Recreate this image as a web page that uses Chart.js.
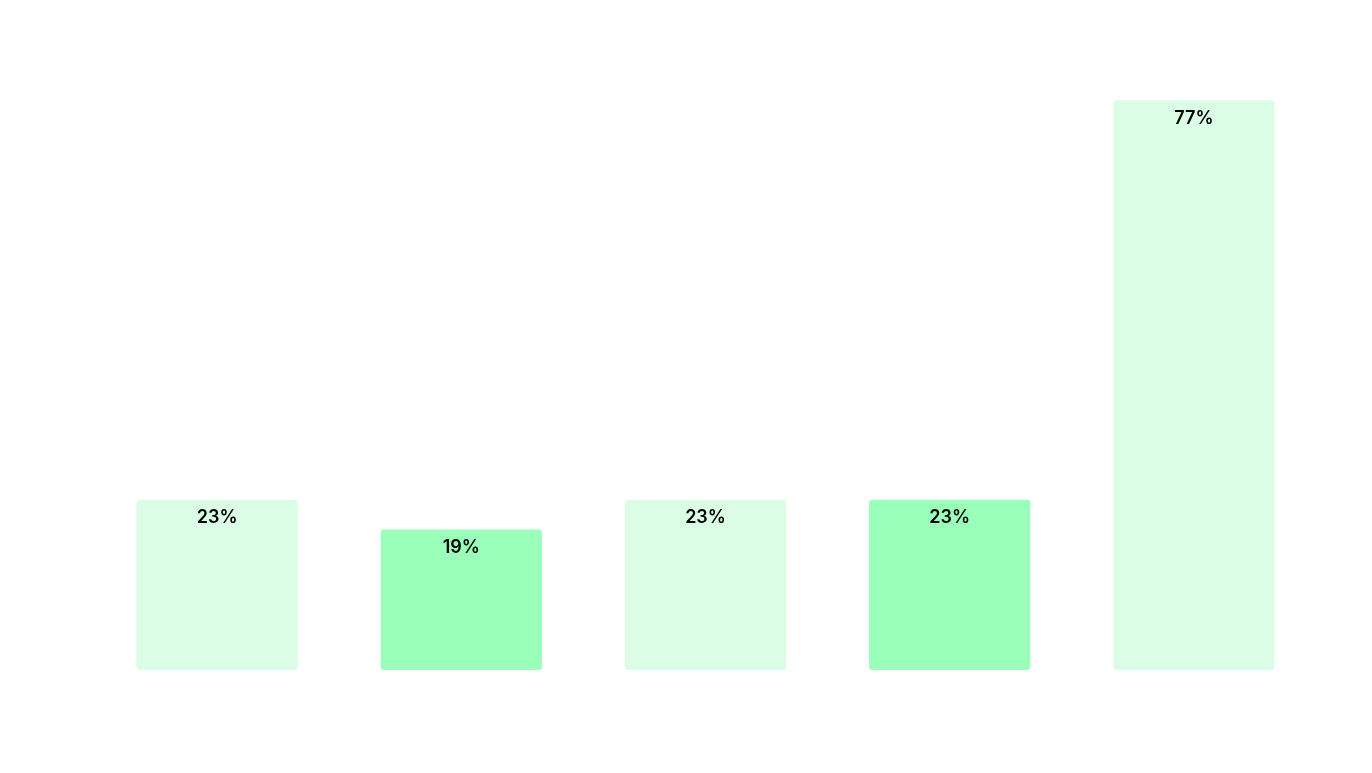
<!DOCTYPE html>
<html>
<head>
<meta charset="utf-8">
<script src="https://cdn.jsdelivr.net/npm/chart.js@4/dist/chart.umd.min.js"></script>
<style>
  html, body { margin: 0; padding: 0; background: #fff; }
  #wrap { width: 1372px; height: 773px; }
</style>
</head>
<body>
<div id="wrap"><canvas id="chart"></canvas></div>
<script>
const categories = ['A', 'B', 'C', 'D', 'E'];
const values = [23, 19, 23, 23, 77];
const barColors = ['#dcfde5', '#9affb9', '#dcfde5', '#9affb9', '#dcfde5'];

// labels drawn inside the top of each bar
const valueLabels = {
  id: 'valueLabels',
  afterDatasetsDraw(chart) {
    const ctx = chart.ctx;
    const meta = chart.getDatasetMeta(0);
    ctx.save();
    ctx.font = '600 18px Inter, "Noto Sans", sans-serif';
    ctx.fillStyle = '#000';
    ctx.textAlign = 'center';
    ctx.textBaseline = 'middle';
    meta.data.forEach((bar, i) => {
      ctx.fillText(values[i] + '%', bar.x, bar.y + 18);
    });
    ctx.restore();
  },
};

new Chart(document.getElementById('chart'), {
  type: 'bar',
  data: {
    labels: categories,
    datasets: [{
      data: values,
      backgroundColor: barColors,
      borderRadius: 3,
      borderSkipped: false,
      categoryPercentage: 0.66,
      barPercentage: 1,
    }],
  },
  options: {
    responsive: true,
    maintainAspectRatio: false,
    animation: false,
    layout: { padding: { left: 95, right: 56, top: 78, bottom: 103 } },
    plugins: { legend: { display: false }, tooltip: { enabled: false } },
    scales: {
      x: { display: false },
      y: { display: false, min: 0, max: 80 },
    },
  },
  plugins: [valueLabels],
});
</script>
</body>
</html>
